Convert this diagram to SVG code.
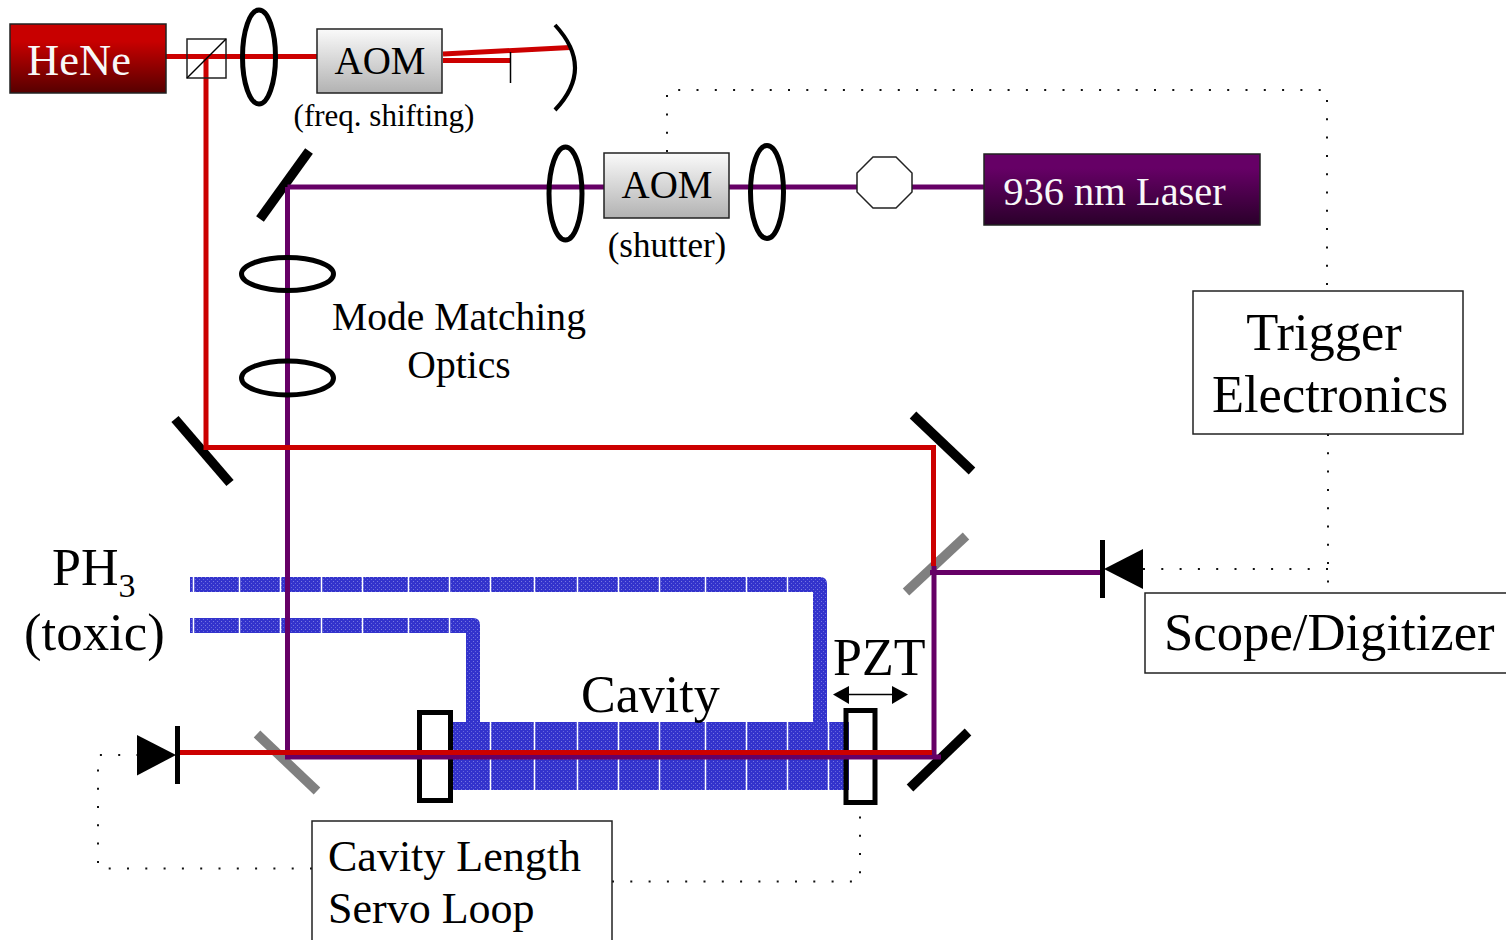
<svg xmlns="http://www.w3.org/2000/svg" width="1506" height="940" viewBox="0 0 1506 940">
<style>
text{font-family:"Liberation Serif","Times New Roman",serif;fill:#000}
.red{stroke:#cc0000;stroke-width:5;fill:none}
.pur{stroke:#660066;stroke-width:5;fill:none}
.lens{fill:none;stroke:#000;stroke-width:5}
.mir{stroke:#000;stroke-width:9.500;fill:none}
.bs{stroke:#808080;stroke-width:9.500;fill:none}
.dot{stroke:#111;stroke-width:2;stroke-dasharray:2 16.300;fill:none}
.box{fill:#fff;stroke:#222;stroke-width:1.500}
.tube{fill:url(#dots)}
.sep{stroke:#fff;stroke-width:1.500}
.win{fill:none;stroke:#000;stroke-width:5}
</style>
<defs>
<linearGradient id="gHe" x1="0" y1="0" x2="0" y2="1"><stop offset="0.25" stop-color="#c80000"/><stop offset="1" stop-color="#560000"/></linearGradient>
<linearGradient id="gLa" x1="0" y1="0" x2="0" y2="1"><stop offset="0.2" stop-color="#660066"/><stop offset="1" stop-color="#2a002a"/></linearGradient>
<linearGradient id="gAom" x1="0" y1="0" x2="0" y2="1"><stop offset="0" stop-color="#fafafa"/><stop offset="1" stop-color="#b2b2b2"/></linearGradient>
<pattern id="dots" width="4" height="4" patternUnits="userSpaceOnUse"><rect width="4" height="4" fill="#3333cc"/><rect x="1" y="1" width="1" height="1" fill="#7777e0"/><rect x="3" y="3" width="1" height="1" fill="#6666dd"/></pattern>
</defs>

<g id="gas-lines">
<path class="tube" d="M190 577H820Q827 577 827 584V722H813V592H190Z"/>
<path class="tube" d="M190 618H473Q480 618 480 625V722H466V633H190Z"/>
<g class="sep"><path d="M193.500 577V592M239.500 577V592M280.500 577V592M321.500 577V592M362.500 577V592M408.500 577V592M449.500 577V592M490.500 577V592M534.500 577V592M577.500 577V592M618.500 577V592M659.500 577V592M705.500 577V592M746.500 577V592M787.500 577V592"/>
<path d="M193.500 618V633M239.500 618V633M280.500 618V633M321.500 618V633M362.500 618V633M408.500 618V633M449.500 618V633"/></g>
</g>
<g id="cavity">
<rect class="tube" x="452" y="722" width="397" height="68"/>
<path class="sep" d="M490.500 722V790M534.500 722V790M577.500 722V790M618.500 722V790M659.500 722V790M705.500 722V790M746.500 722V790M787.500 722V790M828.500 722V790"/>
</g>

<g id="bs-right"><path class="bs" d="M966 536L906 592"/></g>
<g id="mirror-br"><path class="mir" d="M968 732L910 788"/></g>
<g id="bs-left"><path class="bs" d="M257 734L317 791"/></g>
<g id="mirror-left"><path class="mir" d="M175 419L230 483"/></g>
<g id="mirror-right"><path class="mir" d="M913 415L972 471"/></g>
<g id="mirror-top"><path class="mir" d="M309 151L260 219"/></g>
<g id="window-left"><rect class="win" x="419.500" y="712.500" width="31" height="88"/></g>
<g id="window-right"><rect class="win" x="846" y="710.500" width="29" height="92"/></g>

<g id="connectors">
<path class="pur" d="M287.500 187H985M287.500 187V757H941M934 757V566M930 572.500H1102"/>
<path class="red" d="M166 56.500H317M206 56V447.500H933.500V566M177 752.500H932"/>
<path class="red" d="M443 54L570 47.500M443 60.500H511"/>
<path d="M510.500 52V83" stroke="#000" stroke-width="1.500"/>
<path class="dot" d="M667 152V90H1327V285"/>
<path class="dot" d="M1328 434V592M1328 569H1143"/>
<path class="dot" d="M312 868.500H98V755H137"/>
<path class="dot" d="M612 881.500H860V803"/>
</g>

<g id="hene"><rect x="10" y="24" width="156" height="69" fill="url(#gHe)" stroke="#222" stroke-width="1.500"/><text x="79" y="75" font-size="44.500" text-anchor="middle" style="fill:#f8f8f8">HeNe</text></g>
<g id="splitter"><rect x="187" y="39" width="39" height="39" fill="none" stroke="#222" stroke-width="1.500"/><path d="M187 78L226 39" stroke="#000" stroke-width="1.500"/></g>
<g id="lens1"><ellipse class="lens" cx="259" cy="57" rx="16.500" ry="47"/></g>
<g id="aom1"><rect x="317" y="29" width="125" height="64" fill="url(#gAom)" stroke="#222" stroke-width="1.500"/><text x="380" y="74" font-size="39" text-anchor="middle">AOM</text><text x="384" y="126" font-size="31" text-anchor="middle">(freq. shifting)</text></g>
<g id="curved-mirror"><path d="M555 25Q595 68 555 110" fill="none" stroke="#000" stroke-width="4"/></g>
<g id="lens2"><ellipse class="lens" cx="565.500" cy="193.500" rx="16.500" ry="46.500"/></g>
<g id="aom2"><rect x="604" y="153" width="125" height="65" fill="url(#gAom)" stroke="#222" stroke-width="1.500"/><text x="667" y="198" font-size="39" text-anchor="middle">AOM</text><text x="667" y="257" font-size="35" text-anchor="middle">(shutter)</text></g>
<g id="lens3"><ellipse class="lens" cx="767" cy="192" rx="16.500" ry="46.500"/></g>
<g id="isolator"><polygon points="873,157 896,157 912,173 912,192 896,208 873,208 857,192 857,173" fill="#fff" stroke="#222" stroke-width="1.500"/></g>
<g id="laser"><rect x="984" y="154" width="276" height="71" fill="url(#gLa)" stroke="#222" stroke-width="1.500"/><text x="1114.500" y="205" font-size="40.500" text-anchor="middle" style="fill:#f8f8f8">936 nm Laser</text></g>
<g id="lens4"><ellipse class="lens" cx="287.500" cy="274" rx="46" ry="16.500"/></g>
<g id="lens5"><ellipse class="lens" cx="287.500" cy="378" rx="46" ry="17"/></g>
<g id="optics-label"><text x="459" y="330" font-size="39.600" text-anchor="middle">Mode Matching</text><text x="459" y="378" font-size="39.600" text-anchor="middle">Optics</text></g>
<g id="trigger"><rect class="box" x="1193" y="291" width="270" height="143"/><text x="1324" y="350" font-size="52.500" text-anchor="middle">Trigger</text><text x="1330" y="412" font-size="52.500" text-anchor="middle">Electronics</text></g>
<g id="scope"><rect class="box" x="1145" y="593" width="365" height="80"/><text x="1164" y="650" font-size="52.700">Scope/Digitizer</text></g>
<g id="servo"><rect class="box" x="312" y="821" width="300" height="125"/><text x="328" y="871" font-size="44">Cavity Length</text><text x="328" y="923" font-size="44">Servo Loop</text></g>
<g id="ph3"><text x="52" y="585" font-size="52">PH<tspan font-size="34" dy="12">3</tspan></text><text x="24" y="650" font-size="52.800">(toxic)</text></g>
<g id="cavity-label"><text x="581" y="712" font-size="52">Cavity</text></g>
<g id="pzt"><text x="833" y="675" font-size="52">PZT</text><path d="M845 694.500H893" stroke="#000" stroke-width="1.500"/><polygon points="833,694.500 849,686 849,704"/><polygon points="908,694.500 892,686 892,704"/></g>
<g id="detector-left"><polygon points="137,735 137,775.500 176,755"/><rect x="175" y="726" width="5" height="58"/></g>
<g id="detector-right"><polygon points="1143,549 1143,589 1104,569"/><rect x="1100" y="540" width="5" height="58"/></g>
</svg>
